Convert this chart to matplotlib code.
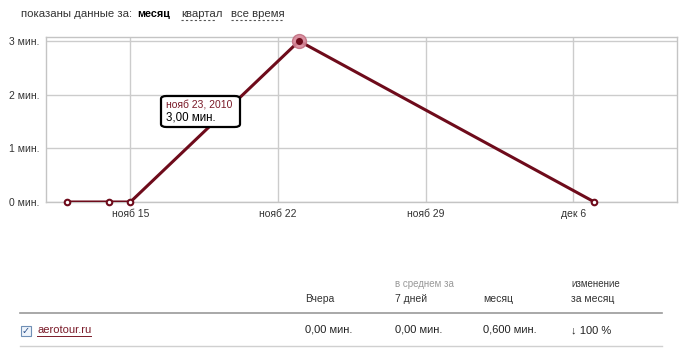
"""
Время на сайте: график за месяц и таблица-сводка.
"""

import datetime as dt
import matplotlib
matplotlib.use("Agg")
import matplotlib.pyplot as plt
import matplotlib.dates as mdates
import matplotlib.patches as patches

plt.rcParams.update({
    "font.family": ["Liberation Sans", "DejaVu Sans"],
    "font.size": 8,
})

# ── Данные ───────────────────────────────────────────────────────────────────
dates = [dt.date(2010, 11, 12), dt.date(2010, 11, 14), dt.date(2010, 11, 15),
         dt.date(2010, 11, 23), dt.date(2010, 12, 7)]
minutes = [0, 0, 0, 3.0, 0]
peak_index = 3

y_ticks = [0, 1, 2, 3]
y_labels = ["0 мин.", "1 мин.", "2 мин.", "3 мин."]
x_ticks = [dt.date(2010, 11, 15), dt.date(2010, 11, 22),
           dt.date(2010, 11, 29), dt.date(2010, 12, 6)]
x_labels = ["нояб 15", "нояб 22", "нояб 29", "дек 6"]

table_headers = ["Вчера", "7 дней", "месяц", "за месяц"]
site_name = "aerotour.ru"
site_values = ["0,00 мин.", "0,00 мин.", "0,600 мин.", "\u2193 100 %"]

LINE = "#6e0b1b"
GRID = "#cccccc"

W, H = 687, 359
fig = plt.figure(figsize=(W / 100, H / 100), dpi=100)


def fx(px):
    return px / W


def fy(py):
    return 1 - py / H


# ── График ───────────────────────────────────────────────────────────────────
ax = fig.add_axes([fx(46), fy(202), fx(677) - fx(46), fy(37) - fy(202)])
x_lo = mdates.date2num(dt.datetime(2010, 11, 11, 0))
x_hi = mdates.date2num(dt.datetime(2010, 12, 10, 22))
ax.set_xlim(x_lo, x_hi)
ax.set_ylim(0, 3.075)

for s in ax.spines.values():
    s.set_color("#c4c4c4")
    s.set_linewidth(1.0)

ax.set_yticks(y_ticks)
ax.set_yticklabels(y_labels, color="#333333", fontsize=7.5)
ax.set_xticks(mdates.date2num(x_ticks))
ax.set_xticklabels(x_labels, color="#333333", fontsize=7.5)
ax.tick_params(length=0, pad=5)
ax.grid(True, color=GRID, lw=1.0)
ax.set_axisbelow(True)

xn = mdates.date2num(dates)
ax.plot(xn, minutes, color=LINE, lw=2.2, zorder=3, solid_capstyle="round")
ax.plot(xn, minutes, "o", ms=4, mfc="white", mec=LINE, mew=1.5, zorder=4,
        clip_on=False)
# выделенная точка
ax.plot(xn[peak_index], minutes[peak_index], "o", ms=10, mfc="#d9899a",
        mec="#c27082", alpha=0.9, zorder=5, clip_on=False)
ax.plot(xn[peak_index], minutes[peak_index], "o", ms=4, mfc=LINE, mec=LINE,
        zorder=6, clip_on=False)

# подсказка
box = patches.FancyBboxPatch((fx(161), fy(127)), fx(240) - fx(161),
                             fy(96) - fy(127),
                             boxstyle="round,pad=0,rounding_size=0.008",
                             transform=fig.transFigure, facecolor="white",
                             edgecolor="black", lw=1.6, zorder=10)
fig.patches.append(box)
peak = dates[peak_index]
fig.text(fx(166), fy(104), f"нояб {peak.day}, {peak.year}", color="#7a1a28",
         fontsize=7.5, va="center", zorder=11)
fig.text(fx(166), fy(117), f"{minutes[peak_index]:.2f}".replace(".", ",")
         + " мин.", color="black", fontsize=8.3, va="center", zorder=11)

# ── Верхняя строка ───────────────────────────────────────────────────────────
ty = fy(14)
fig.text(fx(21), ty, "показаны данные за:", color="#333333", fontsize=8.2,
         va="center")
fig.text(fx(137), ty, "месяц", color="black", fontsize=7.8, va="center",
         fontweight="bold")
for x0, x1, label in [(181, 216, "квартал"), (231, 283, "все время")]:
    fig.text(fx(x0), ty, label, color="#333333", fontsize=8.2, va="center")
    fig.add_artist(plt.Line2D([fx(x0), fx(x1)], [fy(20), fy(20)],
                              color="#555555", lw=0.8, ls=(0, (2, 2))))

# ── Таблица ──────────────────────────────────────────────────────────────────
cols = [305, 395, 483, 571]
fig.text(fx(395), fy(284), "в среднем за", color="#999999", fontsize=7,
         va="center")
fig.text(fx(571), fy(284), "изменение", color="#333333", fontsize=7,
         va="center")
for x, label in zip(cols, table_headers):
    fig.text(fx(x), fy(299), label, color="#333333", fontsize=7.5,
             va="center")

fig.add_artist(plt.Line2D([fx(20), fx(662)], [fy(313), fy(313)],
                          color="#9a9a9a", lw=1.2))
fig.add_artist(plt.Line2D([fx(20), fx(662)], [fy(346), fy(346)],
                          color="#d0d0d0", lw=1.0))

# флажок
fig.patches.append(patches.Rectangle((fx(21), fy(336)), fx(10), fy(0) - fy(10),
                                     transform=fig.transFigure,
                                     facecolor="#eef4fb", edgecolor="#6f8fb5",
                                     lw=0.8))
fig.text(fx(26), fy(331), "\u2713", color="#2a4f8a", fontsize=7,
         ha="center", va="center", family=["DejaVu Sans"])
fig.text(fx(37), fy(330), site_name, color="#7a1a28", fontsize=8,
         va="center")
fig.add_artist(plt.Line2D([fx(37), fx(91)], [fy(336), fy(336)],
                          color="#7a1a28", lw=0.7))
for x, val in zip(cols, site_values):
    fig.text(fx(x), fy(330), val, color="#222222", fontsize=8, va="center")

fig.savefig("out.png", dpi=100)
